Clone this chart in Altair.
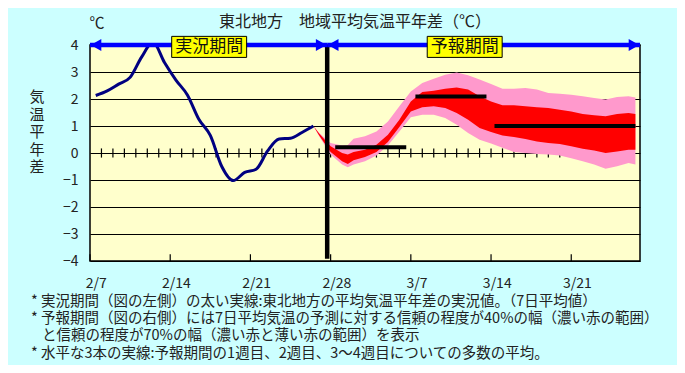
import altair as alt
import pandas as pd

FONT = "Noto Sans CJK JP"

# ---------------- data ----------------
# observed 7-day mean anomaly, x = days since 2/7 (centre of day)
obs_day = [0.5, 1.5, 2.5, 3.5, 4.5, 5.5, 6.5, 7.5, 8.5, 9.5,
           10.5, 11.5, 12.5, 13.5, 14.5, 15.5, 16.5, 17.5, 18.5, 19.5]
obs_val = [2.13, 2.30, 2.55, 2.80, 3.55, 4.10, 3.35, 2.70, 2.15, 1.25,
           0.65, -0.50, -1.02, -0.72, -0.60, 0.08, 0.52, 0.55, 0.76, 1.00]

# forecast confidence bands
fc_day = [19.5, 20, 21, 22, 22.5, 23, 24, 25, 26, 27, 28, 29, 30, 31, 32, 33,
          34, 35, 36, 37, 38, 39, 40, 41, 42, 43, 44, 45, 46, 47, 47.6]
p70_hi = [1.00, 0.74, 0.37, 0.28, 0.30, 0.53, 0.62, 0.80, 1.17, 1.73, 2.28, 2.59, 2.75, 2.90, 2.98, 2.88,
          2.72, 2.56, 2.38, 2.38, 2.41, 2.35, 2.22, 2.19, 2.16, 2.10, 2.04, 1.98, 2.07, 2.10, 2.06]
p70_lo = [1.00, 0.62, -0.06, -0.43, -0.53, -0.43, -0.31, -0.09, 0.28, 0.80, 1.32, 1.42, 1.42, 1.30, 1.05, 0.74,
          0.49, 0.35, 0.19, 0.04, 0.00, -0.04, -0.06, -0.09, -0.19, -0.31, -0.43, -0.58, -0.49, -0.37, -0.43]
p40_hi = [1.00, 0.72, 0.25, 0.00, -0.06, 0.04, 0.12, 0.31, 0.68, 1.23, 1.91, 2.26, 2.31, 2.38, 2.43, 2.35,
          2.10, 1.91, 1.77, 1.77, 1.73, 1.69, 1.67, 1.60, 1.54, 1.44, 1.40, 1.36, 1.44, 1.48, 1.44]
p40_lo = [1.00, 0.65, 0.04, -0.31, -0.41, -0.27, -0.15, 0.04, 0.41, 0.96, 1.54, 1.69, 1.73, 1.67, 1.48, 1.23,
          0.93, 0.78, 0.65, 0.59, 0.52, 0.43, 0.37, 0.33, 0.25, 0.16, 0.09, 0.00, 0.06, 0.12, 0.12]

# weekly ensemble means (1st week, 2nd week, 3-4th week)
wk_start = [21.4, 28.4, 35.3]
wk_end = [27.6, 34.6, 47.6]
wk_val = [0.21, 2.09, 1.00]

# axis
tick_labels = ["2/7", "2/14", "2/21", "2/28", "3/7", "3/14", "3/21"]
label_pos = [0.5, 7.5, 14.5, 21.5, 28.5, 35.5, 42.5]
week_ticks = [0, 7, 14, 21, 28, 35, 42]
day_ticks = list(range(1, 48))
y_ticks = [-4, -3, -2, -1, 0, 1, 2, 3, 4]

# period annotation
boundary_day = 20.7
period_start = [0, 20.7]
period_end = [20.7, 48]
period_names = ["実況期間", "予報期間"]
period_label_day = [10.4, 32.7]

title_text = "東北地方　地域平均気温平年差（℃）"
ytitle_chars = ["気", "温", "平", "年", "差"]
notes = [
    "* 実況期間（図の左側）の太い実線:東北地方の平均気温平年差の実況値。（7日平均値）",
    "* 予報期間（図の右側）には7日平均気温の予測に対する信頼の程度が40%の幅（濃い赤の範囲）",
    "と信頼の程度が70%の幅（濃い赤と薄い赤の範囲）を表示",
    "* 水平な3本の実線:予報期間の1週目、2週目、3～4週目についての多数の平均。",
]

# ---------------- chart ----------------
W, H = 550, 216
xs = alt.Scale(domain=[0, 48], nice=False, zero=False)
ys = alt.Scale(domain=[-4, 4], nice=False, zero=False)

lab_arr = "[" + ",".join("'%s'" % s for s in tick_labels) + "]"
x_axis = alt.Axis(values=label_pos, labelExpr=lab_arr + "[floor(datum.value/7)]",
                  title=None, ticks=False, tickSize=0, domain=False, grid=False,
                  labelFontSize=14, labelPadding=15, labelFlush=False, labelOverlap=False,
                  labelColor="#222", labelFont=FONT)
y_axis = alt.Axis(values=y_ticks, title=None, ticks=False, tickSize=0, domain=False, grid=True,
                  gridColor="black", gridWidth=1.2, gridOpacity=1,
                  labelFontSize=14, labelPadding=12, labelColor="#222", labelFont=FONT,
                  labelOverlap=False, labelFlush=False)

band_df = pd.DataFrame({"t": fc_day, "h70": p70_hi, "l70": p70_lo, "h40": p40_hi, "l40": p40_lo})
obs_df = pd.DataFrame({"t": obs_day, "v": obs_val})
wk_df = pd.DataFrame({"t0": wk_start, "t1": wk_end, "v": wk_val})
day_df = pd.DataFrame({"t": day_ticks})
week_df = pd.DataFrame({"t": week_ticks})
per_df = pd.DataFrame({"t0": period_start, "t1": period_end})
lab_df = pd.DataFrame({"t": period_label_day, "name": period_names})

minor = alt.Chart(day_df).mark_rule(color="black", strokeWidth=1.2).encode(
    x=alt.X("t:Q", scale=xs, axis=x_axis),
    y=alt.Y(datum=-0.17, scale=ys, axis=y_axis),
    y2=alt.datum(0.17),
)
bottom_ticks = alt.Chart(week_df).mark_rule(color="black", strokeWidth=1.2).encode(
    x=alt.X("t:Q", scale=xs, axis=x_axis),
    y=alt.Y(datum=-4, scale=ys, axis=y_axis),
    y2=alt.datum(-3.75),
)
band70 = alt.Chart(band_df).mark_area(color="#FF99CC", opacity=1).encode(
    x=alt.X("t:Q", scale=xs, axis=x_axis),
    y=alt.Y("l70:Q", scale=ys, axis=y_axis),
    y2="h70:Q",
)
band40 = alt.Chart(band_df).mark_area(color="#FF0000", opacity=1).encode(
    x=alt.X("t:Q", scale=xs, axis=x_axis),
    y=alt.Y("l40:Q", scale=ys, axis=y_axis),
    y2="h40:Q",
)
weeks = alt.Chart(wk_df).mark_rule(color="black", strokeWidth=4).encode(
    x=alt.X("t0:Q", scale=xs, axis=x_axis),
    x2="t1:Q",
    y=alt.Y("v:Q", scale=ys, axis=y_axis),
)
obs = alt.Chart(obs_df).mark_line(color="#000080", strokeWidth=3, interpolate="monotone", clip=True).encode(
    x=alt.X("t:Q", scale=xs, axis=x_axis),
    y=alt.Y("v:Q", scale=ys, axis=y_axis),
)
vline = alt.Chart(pd.DataFrame({"t": [boundary_day]})).mark_rule(color="black", strokeWidth=4.5).encode(
    x=alt.X("t:Q", scale=xs, axis=x_axis),
    y=alt.Y(datum=4, scale=ys, axis=y_axis),
    y2=alt.datum(-3.92),
)
arrows = alt.Chart(per_df).mark_rule(color="#0000FF", strokeWidth=4.5).encode(
    x=alt.X("t0:Q", scale=xs, axis=x_axis),
    x2="t1:Q",
    y=alt.Y(datum=4, scale=ys, axis=y_axis),
)
head_l = alt.Chart(per_df).mark_point(shape="triangle-left", filled=True, color="#0000FF",
                                      size=150, opacity=1, xOffset=6).encode(
    x=alt.X("t0:Q", scale=xs, axis=x_axis),
    y=alt.Y(datum=4, scale=ys, axis=y_axis),
)
head_r = alt.Chart(per_df).mark_point(shape="triangle-right", filled=True, color="#0000FF",
                                      size=150, opacity=1, xOffset=-6).encode(
    x=alt.X("t1:Q", scale=xs, axis=x_axis),
    y=alt.Y(datum=4, scale=ys, axis=y_axis),
)
boxes = alt.Chart(lab_df).transform_calculate(
    a="datum.t - 3.27", b="datum.t + 3.27"
).mark_rect(fill="#FFFF00", stroke="black", strokeWidth=1).encode(
    x=alt.X("a:Q", scale=xs, axis=x_axis),
    x2="b:Q",
    y=alt.Y(datum=3.54, scale=ys, axis=y_axis),
    y2=alt.datum(4.32),
)
box_text = alt.Chart(lab_df).mark_text(font=FONT, fontSize=17, color="#111", baseline="middle").encode(
    x=alt.X("t:Q", scale=xs, axis=x_axis),
    y=alt.Y(datum=3.93, scale=ys, axis=y_axis),
    text="name:N",
)


def label(txt, x, y, size, align="left", **kw):
    return alt.Chart(pd.DataFrame({"s": [txt]})).mark_text(
        font=FONT, fontSize=size, color="#222", align=align, baseline="middle", **kw
    ).encode(x=alt.value(x), y=alt.value(y), text="s")


title = label(title_text, 265, -23, 16, align="center")
unit = label("℃", 7, -22, 15, align="center")
ytitle = label(ytitle_chars, -53, 52, 15, align="center", lineHeight=17.5)
footer_a = label(notes[0:2], -59, 257, 14.5, lineHeight=17.3)
footer_b = label(notes[2], -48, 291, 14.5)
footer_c = label(notes[3], -59, 309, 14.5)

chart = alt.layer(
    minor, bottom_ticks, band70, band40, weeks, obs, vline, arrows, head_l, head_r,
    boxes, box_text, title, unit, ytitle, footer_a, footer_b, footer_c
).properties(
    width=W, height=H,
    autosize=alt.AutoSizeParams(type="none"),
    padding={"left": 82, "top": 37, "right": 37, "bottom": 104},
    background="#CCFFFF",
).configure_view(
    fill="#FFFFCC", stroke="black", strokeWidth=1.5
)

chart.save("out.html", embed_options={"renderer": "svg", "actions": False})
